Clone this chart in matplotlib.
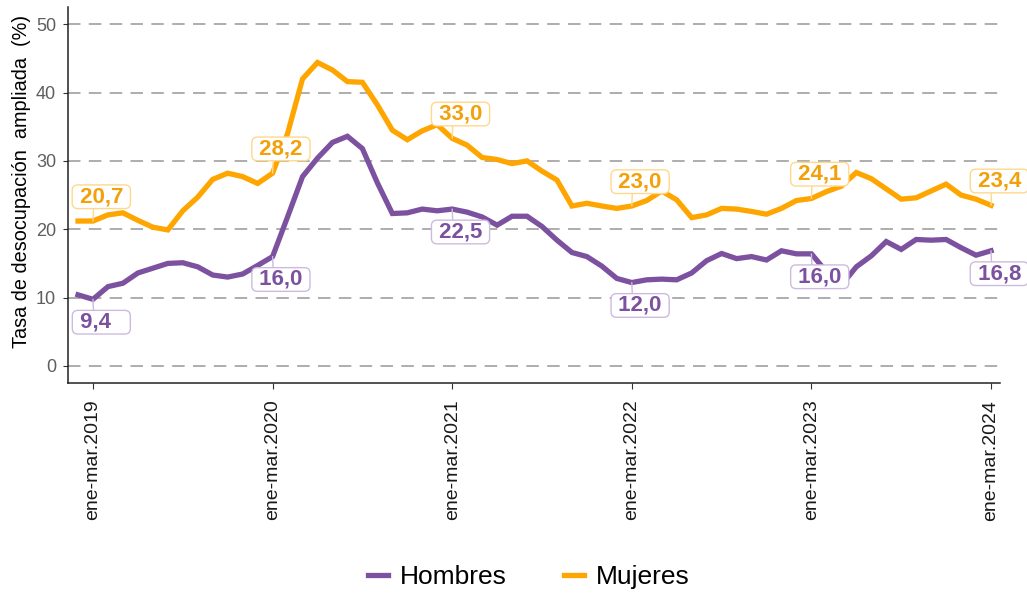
import matplotlib
matplotlib.use("Agg")
import matplotlib.pyplot as plt
import numpy as np

plt.rcParams['font.family'] = ['Liberation Sans', 'DejaVu Sans']

# trimestres moviles, desde dic-feb 2019 hasta ene-mar 2024
hombres = [10.4, 9.75, 11.6, 12.1, 13.6, 14.3, 15.0, 15.1, 14.5, 13.3, 13.0, 13.45,
           14.7, 16.0, 21.8, 27.7, 30.4, 32.7, 33.6, 31.8, 26.8, 22.3, 22.4, 22.95,
           22.7, 22.95, 22.5, 21.8, 20.6, 21.9, 21.9, 20.4, 18.4, 16.6, 16.0, 14.6,
           12.8, 12.2, 12.6, 12.7, 12.6, 13.6, 15.4, 16.45, 15.7, 16.0, 15.5, 16.85,
           16.4, 16.4, 13.8, 11.8, 14.5, 16.1, 18.2, 17.05, 18.5, 18.4, 18.5, 17.3,
           16.2, 16.85]
mujeres = [21.2, 21.2, 22.1, 22.4, 21.3, 20.3, 19.9, 22.7, 24.7, 27.3, 28.2, 27.7,
           26.7, 28.2, 34.0, 42.0, 44.4, 43.3, 41.6, 41.5, 38.2, 34.5, 33.1, 34.4,
           35.3, 33.3, 32.3, 30.5, 30.2, 29.6, 30.0, 28.5, 27.2, 23.4, 23.8, 23.4,
           23.05, 23.4, 24.2, 25.6, 24.3, 21.7, 22.1, 23.05, 22.95, 22.6, 22.2, 23.05,
           24.2, 24.5, 25.5, 26.3, 28.3, 27.4, 25.9, 24.4, 24.6, 25.6, 26.6, 25.0,
           24.4, 23.5]

ventanas = ["dic-feb", "ene-mar", "feb-abr", "mar-may", "abr-jun", "may-jul",
            "jun-ago", "jul-sep", "ago-oct", "sep-nov", "oct-dic", "nov-ene"]
anios = [2019, 2020, 2021, 2022, 2023, 2024]

# etiquetas en cada ene-mar
etiquetas_hombres = ["9,4", "16,0", "22,5", "12,0", "16,0", "16,8"]
etiquetas_mujeres = ["20,7", "28,2", "33,0", "23,0", "24,1", "23,4"]

COLOR_H = "#7C52A0"
COLOR_M = "#FFA500"


def build_periods(n):
    periods = []
    year = anios[0]
    for i in range(n):
        w = ventanas[i % 12]
        if w == "ene-mar" and i > 1:
            year += 1
        periods.append(f"{w}.{year}")
    return periods


def add_labels(ax, x, values, labels, color, edge, above):
    dy = 17.5 if above else -16.5
    for xi, lab in zip(x, labels):
        # pad the text so every box has the same width
        txt = " " + lab + " " * (1 + 2 * (4 - len(lab)))
        ax.annotate(
            txt, xy=(xi, values[xi]), xytext=(6, dy), textcoords="offset points",
            ha="center", va="center", fontsize=16, fontweight="bold", color=color,
            bbox=dict(boxstyle="round,pad=0.06,rounding_size=0.25", fc="white",
                      ec=edge, lw=1.0),
            arrowprops=dict(arrowstyle="-", color=edge, lw=1.0, shrinkA=0, shrinkB=0,
                            relpos=(0.36, 0.0 if above else 1.0)),
            zorder=5,
        )


periods = build_periods(len(hombres))
x = np.arange(len(periods))
tick_idx = [i for i, p in enumerate(periods) if p.startswith("ene-mar")]

fig = plt.figure(figsize=(10.27, 5.94), dpi=100)
ax = fig.add_axes([0.0662, 0.3552, 0.9075, 0.6328])

for yv in range(0, 51, 10):
    ax.axhline(yv, color="#A0A0A0", lw=1.2, linestyle=(0, (7.5, 5.0)), zorder=1)

ax.plot(x, hombres, color=COLOR_H, lw=3.8, label="Hombres", zorder=3,
        solid_joinstyle="miter")
ax.plot(x, mujeres, color=COLOR_M, lw=3.8, label="Mujeres", zorder=3,
        solid_joinstyle="miter")

add_labels(ax, tick_idx, mujeres, etiquetas_mujeres, "#F2A10A", "#FFD88C", True)
add_labels(ax, tick_idx, hombres, etiquetas_hombres, COLOR_H, "#CDBBDE", False)

ax.set_xlim(-0.67, 61.6)
ax.set_ylim(-2.5, 52.5)
ax.set_yticks(range(0, 51, 10))
ax.set_xticks(tick_idx)
ax.set_xticklabels([periods[i] for i in tick_idx], rotation=90, fontsize=14,
                   color="#1A1A1A")
ax.tick_params(axis="y", labelsize=13, labelcolor="#5E5E5E", length=3.5, pad=5,
               color="#333333")
ax.tick_params(axis="x", length=4, pad=8, color="#333333")

for side in ["top", "right"]:
    ax.spines[side].set_visible(False)
for side in ["left", "bottom"]:
    ax.spines[side].set_color("#222222")
    ax.spines[side].set_linewidth(1.1)

ax.set_ylabel("Tasa de desocupación  ampliada  (%)", fontsize=14.3, color="black")
ax.yaxis.set_label_coords(-0.040, 0.535)

fig.legend(loc="center", bbox_to_anchor=(0.515, 0.029), ncol=2, frameon=False,
           fontsize=19, handlelength=0.75, handletextpad=0.45, columnspacing=2.2)

fig.savefig("out.png", dpi=100)
